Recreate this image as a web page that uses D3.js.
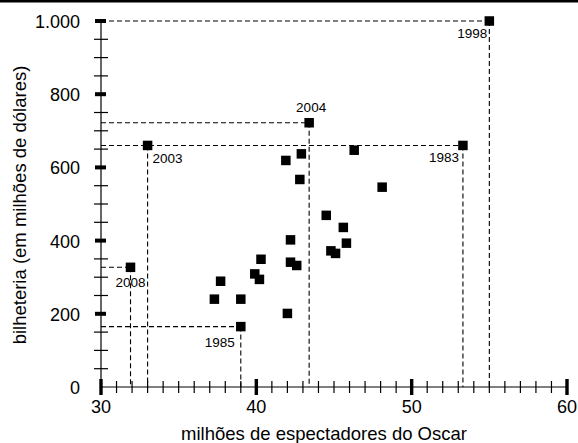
<!DOCTYPE html>
<html><head><meta charset="utf-8">
<script src="https://cdn.jsdelivr.net/npm/d3@7"></script>
<style>body{margin:0;background:#fff}svg{display:block}text{font-family:"Liberation Sans",Arial,sans-serif}</style>
</head><body>
<script>
// viewers (millions), box office (million USD)
const xValues = [42.9,41.9,46.3,42.8,48.1,44.5,45.6,45.8,42.2,44.8,45.1,40.3,42.2,42.6,39.9,40.2,37.7,37.3,39.0,42.0];
const yValues = [637,619,647,567,546,469,436,393,402,372,365,349,341,332,309,294,289,240,240,201];
const labelYears = ["1998","2004","1983","2003","2008","1985"];
const labelX = [55.0,43.4,53.3,33.0,31.9,39.0];
const labelY = [1000,722,660,660,327,165];
const yTicks = [0,200,400,600,800,1000];
const yTickLabels = ["0","200","400","600","800","1.000"];
const xTicks = [30,40,50,60];

const W=578,H=443;
const svg=d3.select("body").append("svg").attr("width",W).attr("height",H);
const x=d3.scaleLinear().domain([30,60]).range([101,567]);
const y=d3.scaleLinear().domain([0,1000]).range([387,21]);

svg.append("rect").attr("x",0).attr("y",0).attr("width",W).attr("height",2.5).attr("fill","#000");

// dashed guides
const labs = labelYears.map((t,i)=>({t,x:labelX[i],y:labelY[i]}));
const g=svg.append("g").attr("stroke","#000").attr("stroke-width",1.1).attr("stroke-dasharray","5,3").attr("fill","none");
labs.forEach(d=>{
  g.append("line").attr("x1",x(30)).attr("x2",x(d.x)).attr("y1",y(d.y)).attr("y2",y(d.y));
  g.append("line").attr("x1",x(d.x)).attr("x2",x(d.x)).attr("y1",y(d.y)).attr("y2",y(0));
});

// axes
const ax=svg.append("g").attr("stroke","#000").attr("stroke-width",1.2);
ax.append("line").attr("x1",x(30)).attr("x2",x(60)).attr("y1",y(0)).attr("y2",y(0));
ax.append("line").attr("x1",x(30)).attr("x2",x(30)).attr("y1",y(0)).attr("y2",y(1000));
// minor ticks
d3.range(31,60).forEach(v=>{ if(v%10) ax.append("line").attr("x1",x(v)).attr("x2",x(v)).attr("y1",y(0)-6).attr("y2",y(0)+6); });
d3.range(50,1000,50).forEach(v=>{ if(v%200) ax.append("line").attr("x1",x(30)-7).attr("x2",x(30)+7).attr("y1",y(v)).attr("y2",y(v)); });
// major ticks
xTicks.forEach(v=>svg.append("rect").attr("x",x(v)-1.7).attr("y",y(0)-8).attr("width",3.4).attr("height",16).attr("fill","#000"));
yTicks.filter(v=>v>0).forEach(v=>svg.append("rect").attr("x",x(30)-6).attr("y",y(v)-2).attr("width",11).attr("height",4).attr("fill","#000"));

// tick labels
xTicks.forEach(v=>svg.append("text").attr("x",x(v)).attr("y",413).attr("text-anchor","middle").attr("font-size",18).text(v));
yTicks.forEach((v,i)=>svg.append("text").attr("x",80).attr("y",y(v)+7).attr("text-anchor","end").attr("font-size",18).text(yTickLabels[i]));

// titles
svg.append("text").attr("x",324).attr("y",440).attr("text-anchor","middle").attr("font-size",18.5).text("milhões de espectadores do Oscar");
svg.append("text").attr("transform","translate(26,205) rotate(-90)").attr("text-anchor","middle").attr("font-size",18.5).text("bilheteria (em milhões de dólares)");

// points
const pts = xValues.map((v,i)=>[v,yValues[i]]).concat(labs.map(d=>[d.x,d.y]));
svg.selectAll("rect.pt").data(pts).enter().append("rect").attr("class","pt")
  .attr("x",d=>x(d[0])-4.75).attr("y",d=>y(d[1])-4.75).attr("width",9.5).attr("height",9.5).attr("fill","#000");

// labels
const off = {"1998":[-2,17,"end"],"2004":[2,-10.5,"middle"],"1983":[-4,17,"end"],"2003":[5,18,"start"],"2008":[0,20,"middle"],"1985":[-6,20,"end"]};
labs.forEach(d=>{
  const o=off[d.t];
  svg.append("text").attr("x",x(d.x)+o[0]).attr("y",y(d.y)+o[1]).attr("text-anchor",o[2]).attr("font-size",13.5).text(d.t);
});
</script>
</body></html>
